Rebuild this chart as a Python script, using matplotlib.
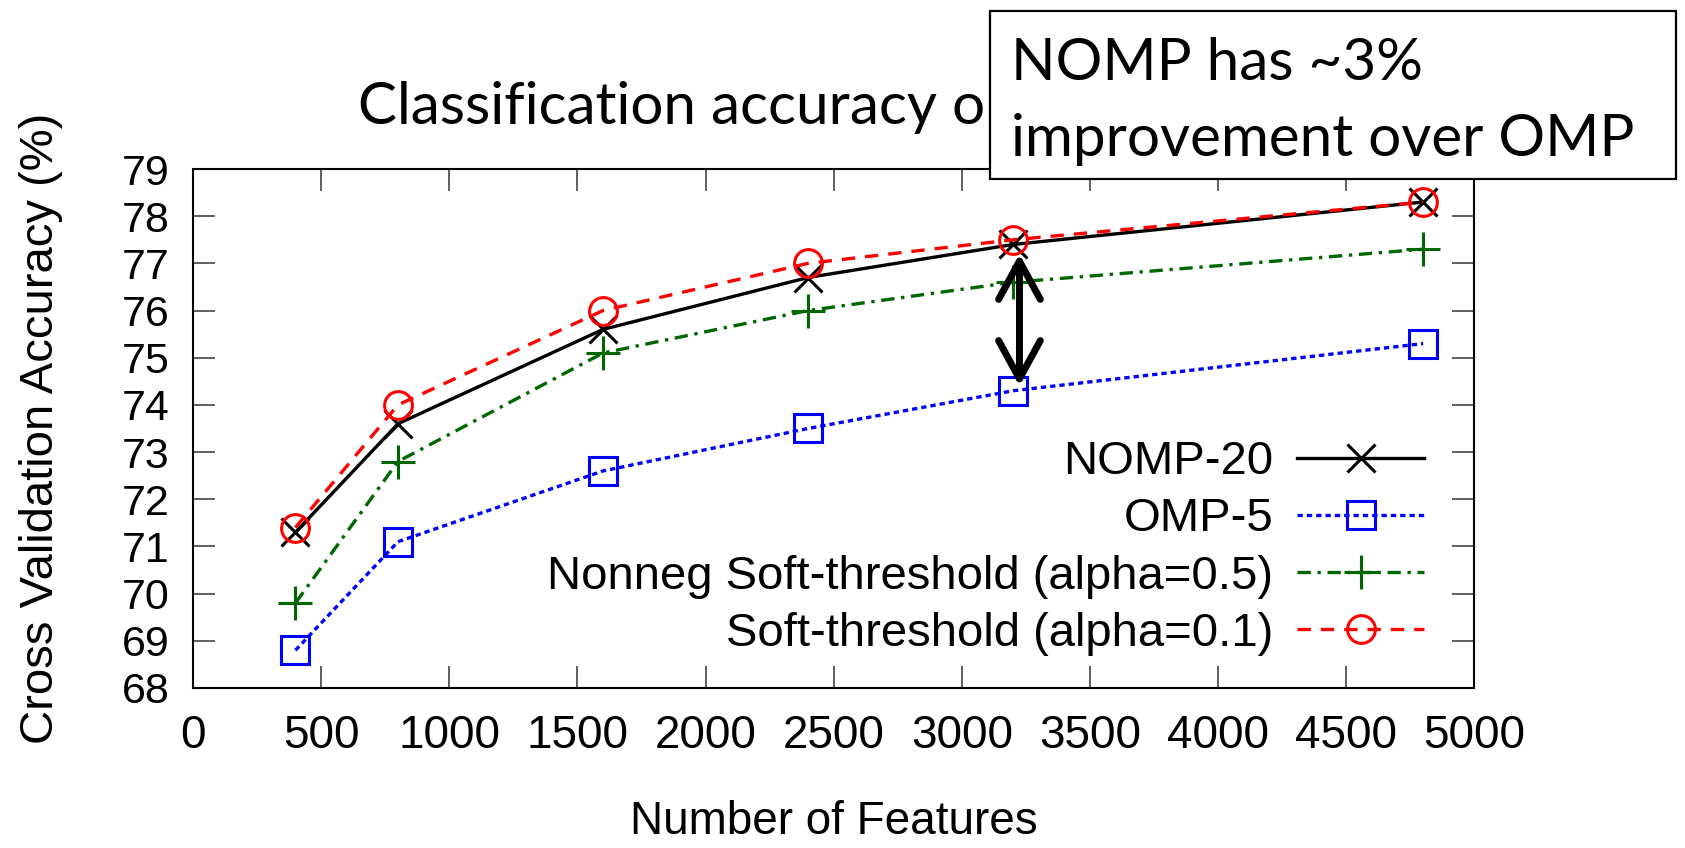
import matplotlib
matplotlib.use("Agg")
import matplotlib.pyplot as plt
from matplotlib.patches import Rectangle

# data
features = [400, 800, 1600, 2400, 3200, 4800]
nomp20 = [71.3, 73.6, 75.6, 76.7, 77.4, 78.3]
omp5 = [68.8, 71.1, 72.6, 73.5, 74.3, 75.3]
nonneg_soft = [69.8, 72.8, 75.1, 76.0, 76.6, 77.3]
soft = [71.4, 74.0, 76.0, 77.0, 77.5, 78.3]

labels = ["NOMP-20", "OMP-5", "Nonneg Soft-threshold (alpha=0.5)", "Soft-threshold (alpha=0.1)"]
x_ticks = [0, 500, 1000, 1500, 2000, 2500, 3000, 3500, 4000, 4500, 5000]
y_ticks = list(range(68, 80))

plt.rcParams['font.family'] = ['Liberation Sans', 'DejaVu Sans']
calib = ['Lato', 'DejaVu Sans']

fig = plt.figure(figsize=(16.85, 8.48), dpi=100)
ax = fig.add_axes([0.1145, 0.1887, 0.7605, 0.612])

ms = 20
mew = 2.2
lw = 2.4
ax.plot(features, nomp20, color='black', linestyle='-', lw=lw, marker='x', ms=ms, mew=mew, label=labels[0])
ax.plot(features, omp5, color='#0000ff', linestyle=(0, (1.6, 1.2)), lw=lw, marker='s', ms=ms, mew=mew,
        mfc='none', label=labels[1])
ax.plot(features, nonneg_soft, color='#006600', linestyle=(0, (4, 2, 1, 2)), lw=lw, marker='+', ms=ms + 4, mew=mew,
        label=labels[2])
ax.plot(features, soft, color='#ff0000', linestyle=(0, (4, 3)), lw=lw, marker='o', ms=ms, mew=mew,
        mfc='none', label=labels[3])

# gap arrow between NOMP and OMP at 3200 features
ax.annotate('', xy=(3225, 74.4), xytext=(3225, 77.2),
            arrowprops=dict(arrowstyle='<->,head_length=0.55,head_width=0.3', lw=5, color='black',
                            mutation_scale=50, shrinkA=0, shrinkB=0))

ax.set_xlim(0, 5000)
ax.set_ylim(68, 79)
ax.set_xticks(x_ticks)
ax.set_yticks(y_ticks)
ax.tick_params(direction='in', length=16, width=1.2, color='#444444', top=True, right=True)
ax.tick_params(axis='y', labelsize=31, pad=17)
ax.tick_params(axis='x', labelsize=33, pad=19)
for s in ax.spines.values():
    s.set_linewidth(1.5)

ax.set_xlabel("Number of Features", fontsize=33, labelpad=30)
ax.set_ylabel("Cross Validation Accuracy (%)", fontsize=34, labelpad=42)

leg = ax.legend(loc='lower right', bbox_to_anchor=(0.961, 0.062), frameon=False, markerfirst=False,
                prop={'size': 34}, handlelength=2.7, handletextpad=0.5,
                labelspacing=0.28, borderpad=0, borderaxespad=0)

# title, partly hidden by the callout box
fig.text(358 / 1685, 1 - 124 / 848, "Classification accuracy on CIFAR-10", family=calib, fontsize=42,
         ha='left', va='baseline', zorder=0.5)

box = Rectangle((990 / 1685, 1 - 179 / 848), (1676 - 990) / 1685, (179 - 11) / 848,
                transform=fig.transFigure, facecolor='white', edgecolor='black', lw=1.6, zorder=2)
fig.add_artist(box)
fig.text(1011 / 1685, 1 - 80 / 848, "NOMP has ~3%", family=calib, fontsize=42, ha='left', va='baseline', zorder=3)
fig.text(1011 / 1685, 1 - 156 / 848, "improvement over OMP", family=calib, fontsize=42, ha='left', va='baseline',
         zorder=3)

fig.savefig("out.png", dpi=100)
